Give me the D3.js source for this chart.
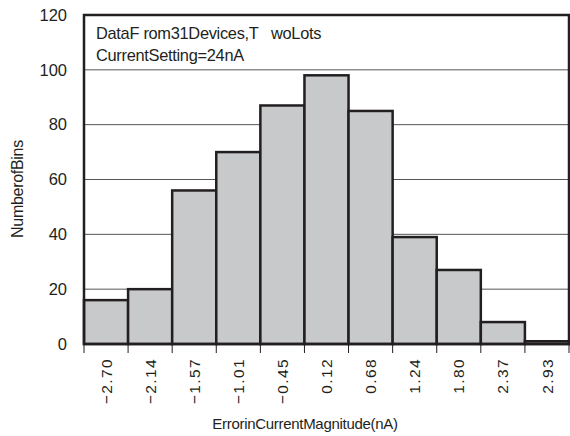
<!DOCTYPE html>
<html><head><meta charset="utf-8">
<script src="https://cdn.jsdelivr.net/npm/d3@7"></script>
<style>
body{margin:0;background:#fff;}
svg{display:block;font-family:"Liberation Sans",Arial,Helvetica,sans-serif;}
</style></head>
<body>
<svg id="c" width="570" height="436"></svg>
<script>
const binLabels = ["\u22122.70","\u22122.14","\u22121.57","\u22121.01","\u22120.45","0.12","0.68","1.24","1.80","2.37","2.93"];
const counts = [16,20,56,70,87,98,85,39,27,8,1];
const yTicks = [0,20,40,60,80,100,120];
const noteLines = ["DataF rom31Devices,T   woLots","CurrentSetting=24nA"];
const xTitle = "ErrorinCurrentMagnitude(nA)";
const yTitle = "NumberofBins";

const svg = d3.select("#c");
const L=84, R=569, T=15, B=344;
const ink="#231f20";
const x = d3.scaleBand().domain(binLabels).range([L,R]).paddingInner(0).paddingOuter(0);
const y = d3.scaleLinear().domain([0,120]).range([B,T]);

// gridlines
svg.append("g").selectAll("line").data(yTicks.filter(v=>v>0&&v<120)).join("line")
  .attr("x1",L).attr("x2",R).attr("y1",d=>y(d)).attr("y2",d=>y(d))
  .attr("stroke","#555").attr("stroke-width",1);

// bars
svg.append("g").selectAll("rect").data(counts).join("rect")
  .attr("x",(d,i)=>x(binLabels[i])).attr("width",x.bandwidth())
  .attr("y",d=>y(d)).attr("height",d=>y(0)-y(d))
  .attr("fill","#c8c9cb").attr("stroke",ink).attr("stroke-width",2.5);

// frame
svg.append("rect").attr("x",L).attr("y",T).attr("width",R-L).attr("height",B-T)
  .attr("fill","none").attr("stroke",ink).attr("stroke-width",2.5);

// y axis labels
const yAxis = d3.axisLeft(y).tickValues(yTicks).tickSize(0).tickPadding(17);
const gy = svg.append("g").attr("transform",`translate(${L},0)`).call(yAxis);
gy.select(".domain").remove();
gy.selectAll("text").attr("font-size",16.5).attr("fill",ink).attr("font-family","Liberation Sans, Arial, sans-serif");

// x ticks at bin edges
const edges = binLabels.map(b=>x(b)).concat([R]);
svg.append("g").selectAll("line").data(edges).join("line")
  .attr("x1",d=>d).attr("x2",d=>d).attr("y1",B).attr("y2",B+9)
  .attr("stroke",ink).attr("stroke-width",1);

// x labels rotated
svg.append("g").selectAll("text").data(binLabels).join("text")
  .attr("transform",d=>`translate(${x(d)+x.bandwidth()/2},358) rotate(-90)`)
  .attr("text-anchor","end").attr("dy","0.36em")
  .attr("font-size",15.5).attr("letter-spacing","1.4px").attr("fill",ink)
  .text(d=>d);

// note
svg.append("g").selectAll("text").data(noteLines).join("text")
  .attr("x",96).attr("y",(d,i)=>39+i*22)
  .attr("font-size",16.4).attr("letter-spacing","-0.3px").attr("fill",ink)
  .style("white-space","pre").attr("xml:space","preserve")
  .text(d=>d);

// axis titles
svg.append("text").attr("x",305).attr("y",429).attr("text-anchor","middle")
  .attr("font-size",15).attr("letter-spacing","-0.3px").attr("fill",ink).text(xTitle);
svg.append("text").attr("transform","translate(23,189) rotate(-90)").attr("text-anchor","middle")
  .attr("font-size",16).attr("letter-spacing","-0.3px").attr("fill",ink).text(yTitle);
</script>
</body></html>
